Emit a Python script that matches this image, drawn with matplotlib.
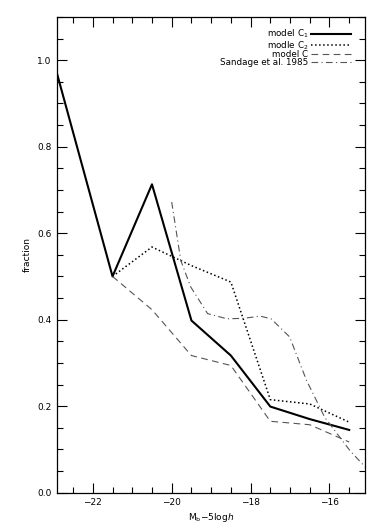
import matplotlib
matplotlib.use("Agg")
import matplotlib.pyplot as plt
from matplotlib.ticker import MultipleLocator

plt.rcParams["font.family"] = ["DejaVu Sans"]
plt.rcParams["mathtext.fontset"] = "dejavusans"

# bin centres (magnitude)
mag = [-23.0, -21.5, -20.5, -19.5, -18.5, -17.5, -16.5, -15.5]
c1 = [1.0, 0.50, 0.713, 0.398, 0.317, 0.199, 0.17, 0.145]

mag_c2 = [-21.5, -20.5, -19.5, -18.5, -17.5, -16.5, -15.5]
c2 = [0.50, 0.568, 0.525, 0.487, 0.215, 0.205, 0.163]
c0 = [0.50, 0.423, 0.317, 0.294, 0.165, 0.157, 0.117]

mag_s = [-20.0, -19.77, -19.52, -19.09, -18.6, -18.2, -17.75, -17.48,
         -17.01, -16.58, -16.12, -15.48, -15.0]
sandage = [0.672, 0.537, 0.476, 0.414, 0.402, 0.403, 0.408, 0.402,
           0.36, 0.259, 0.174, 0.097, 0.05]

fig = plt.figure(figsize=(3.82, 5.30), dpi=100)
ax = fig.add_axes([0.15, 0.0705, 0.8055, 0.8975])

ax.plot(mag, c1, "-", color="black", lw=1.5, label="model C$_1$")
ax.plot(mag_c2, c2, ":", color="black", lw=1.1, label="modle C$_2$")
ax.plot(mag_c2, c0, "--", color="#555555", lw=0.8, dashes=(6, 4), label="model C")
ax.plot(mag_s, sandage, "-.", color="#555555", lw=0.8, dashes=(6, 3, 1, 3),
        label="Sandage et al. 1985")

ax.set_xlim(-22.9, -15.1)
ax.set_ylim(0, 1.1)
ax.xaxis.set_minor_locator(MultipleLocator(0.5))
ax.yaxis.set_minor_locator(MultipleLocator(0.05))
ax.tick_params(which="both", direction="in", top=True, right=True, labelsize=6.5)
ax.tick_params(which="major", length=7, width=0.8, pad=4)
ax.tick_params(which="minor", length=4, width=0.8)
ax.set_xticks([-22, -20, -18, -16])
ax.set_xticklabels(["\u221222", "\u221220", "\u221218", "\u221216"])
ax.set_yticks([0.0, 0.2, 0.4, 0.6, 0.8, 1.0])
ax.set_yticklabels(["0.0", "0.2", "0.4", "0.6", "0.8", "1.0"])
for s in ax.spines.values():
    s.set_linewidth(0.9)

ax.set_xlabel("M$_\\mathrm{b}$\u22125log$\\mathit{h}$", fontsize=6.5, labelpad=3)
ax.set_ylabel("fraction", fontsize=6.5, labelpad=4)

ax.legend(loc="upper right", frameon=False, markerfirst=False, fontsize=6.3,
          handlelength=4.6, handletextpad=0.3, labelspacing=-0.12,
          borderaxespad=0.0, bbox_to_anchor=(0.967, 0.985))

fig.savefig("out.png", dpi=100)
